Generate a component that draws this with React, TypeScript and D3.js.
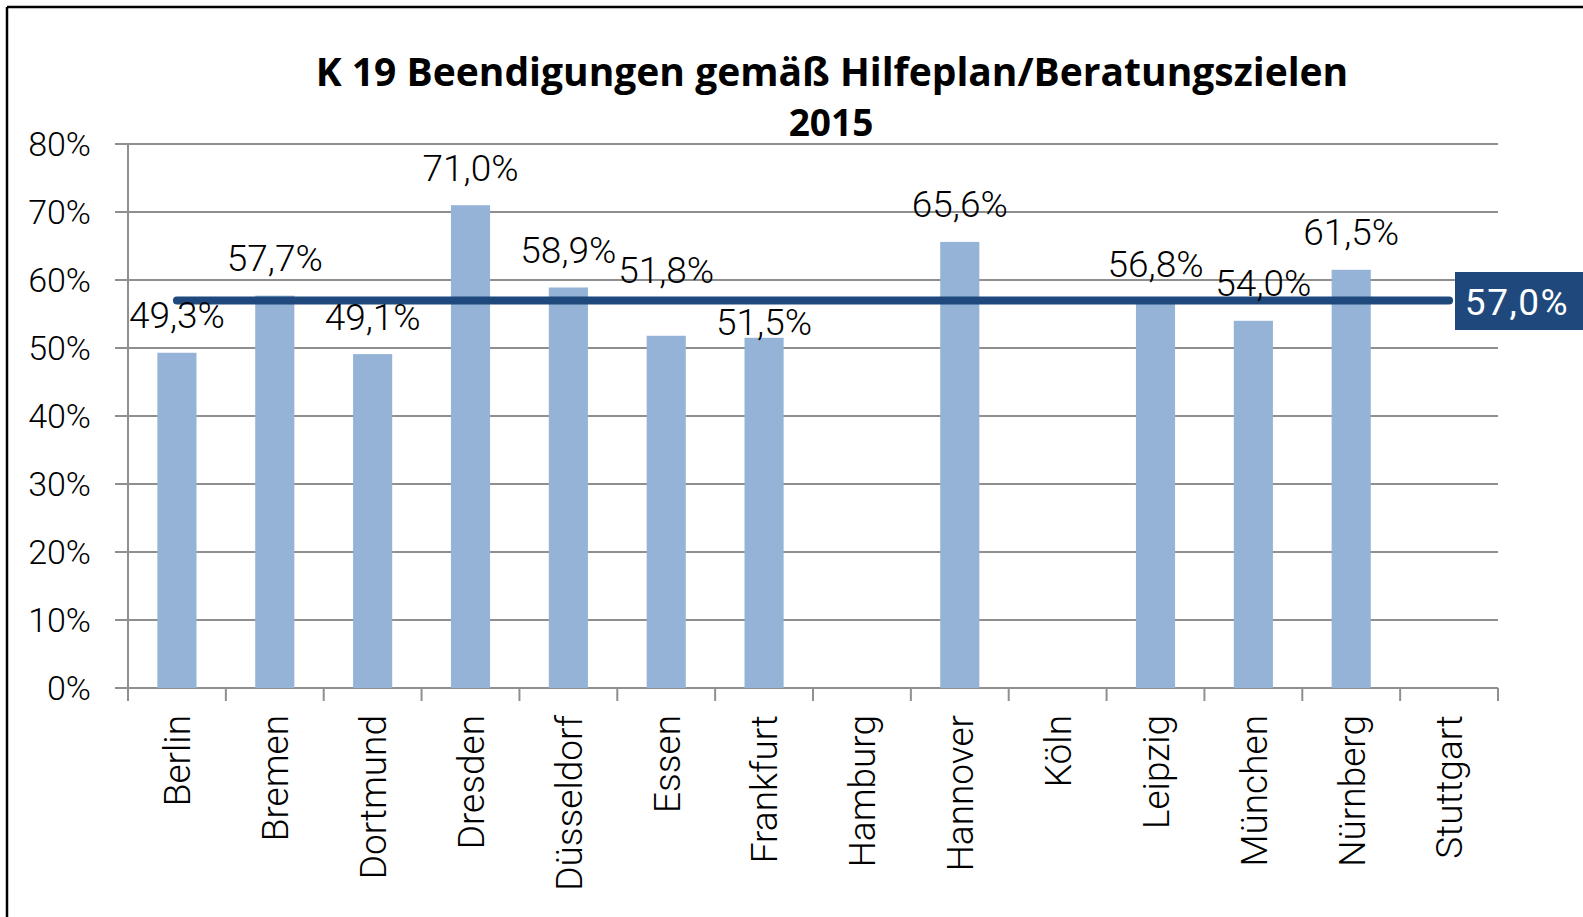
import React from "react";
import * as d3 from "d3";

const categories = ["Berlin", "Bremen", "Dortmund", "Dresden", "Düsseldorf", "Essen", "Frankfurt", "Hamburg", "Hannover", "Köln", "Leipzig", "München", "Nürnberg", "Stuttgart"];
const values: (number | null)[] = [49.3, 57.7, 49.1, 71.0, 58.9, 51.8, 51.5, null, 65.6, null, 56.8, 54.0, 61.5, null];
const average = 57.0;
const yTicks = [0, 10, 20, 30, 40, 50, 60, 70, 80];
const titleLines = ["K 19 Beendigungen gemäß Hilfeplan/Beratungszielen", "2015"];

const W = 1583;
const H = 917;
const left = 128, right = 1498, top = 144, bottom = 688;

// manual data-label nudges (px), as placed in the original
const labelNudge: Record<string, [number, number]> = {
  Essen: [0, -28],
  Frankfurt: [0, 22],
  München: [10, 0],
};

const fmt = (v: number) => v.toFixed(1).replace(".", ",") + "%";

export default function App() {
  const x = d3.scaleBand<string>().domain(categories).range([left, right]).paddingInner(0.6).paddingOuter(0.3);
  const xStep = d3.scaleBand<string>().domain(categories).range([left, right]).padding(0);
  const y = d3.scaleLinear().domain([0, 80]).range([bottom, top]);
  const center = (c: string) => (xStep(c) as number) + xStep.bandwidth() / 2;
  const boundaries = categories.map((c) => xStep(c) as number).concat([right]);
  const labelFont = "Roboto, 'Open Sans', sans-serif";

  return (
    <div style={{ position: "fixed", left: 0, top: 0 }}>
      <svg width={W} height={H} style={{ display: "block", background: "#fff" }}>
        <rect x={0} y={0} width={W} height={H} fill="#fff" />
        {/* frame */}
        <line x1={7} y1={7} x2={W} y2={7} stroke="#000" strokeWidth={2.5} />
        <line x1={7} y1={7} x2={7} y2={H} stroke="#000" strokeWidth={2.5} />
        {/* title */}
        <text x={832} y={86} textAnchor="middle" fontFamily="'Open Sans', sans-serif" fontWeight={700} fontSize={39} fill="#000">{titleLines[0]}</text>
        <text x={831} y={136} textAnchor="middle" fontFamily="'Open Sans', sans-serif" fontWeight={700} fontSize={37} fill="#000">{titleLines[1]}</text>
        {/* gridlines */}
        {yTicks.map((t) => (
          <g key={t}>
            <line x1={115} x2={right} y1={y(t)} y2={y(t)} stroke="#8f8f8f" strokeWidth={2} />
            <text x={91} y={y(t)} dy="0.36em" textAnchor="end" fontFamily={labelFont} fontWeight={300} fontSize={34} fill="#000">{t}%</text>
          </g>
        ))}
        {/* y axis */}
        <line x1={left} x2={left} y1={top} y2={bottom + 13} stroke="#8f8f8f" strokeWidth={2} />
        {boundaries.map((b, i) => (
          <line key={i} x1={b} x2={b} y1={bottom} y2={bottom + 13} stroke="#8f8f8f" strokeWidth={2} />
        ))}
        {/* bars */}
        {categories.map((c, i) => {
          const v = values[i];
          if (v == null) return null;
          return <rect key={c} x={x(c)} y={y(v)} width={x.bandwidth()} height={bottom - y(v)} fill="#95b3d7" />;
        })}
        {/* average line */}
        <line x1={center(categories[0])} x2={center(categories[categories.length - 1])} y1={y(average)} y2={y(average)} stroke="#1f497d" strokeWidth={8} strokeLinecap="round" />
        {/* data labels */}
        {categories.map((c, i) => {
          const v = values[i];
          if (v == null) return null;
          const [ndx, ndy] = labelNudge[c] || [0, 0];
          return (
            <text key={c} x={center(c) + ndx} y={y(v) - 24.5 + ndy} textAnchor="middle" fontFamily={labelFont} fontWeight={300} fontSize={37} fill="#000">{fmt(v)}</text>
          );
        })}
        {/* average label */}
        <rect x={1455} y={272} width={W - 1455} height={58} fill="#1f497d" />
        <text x={1517} y={315} textAnchor="middle" fontFamily={labelFont} fontSize={37} fill="#fff" letterSpacing={1.5}>{fmt(average)}</text>
        {/* x labels */}
        {categories.map((c) => (
          <text key={c} transform={`translate(${center(c)},715) rotate(-90)`} dy="0.36em" textAnchor="end" fontFamily={labelFont} fontWeight={300} fontSize={37} fill="#000">{c}</text>
        ))}
      </svg>
    </div>
  );
}
